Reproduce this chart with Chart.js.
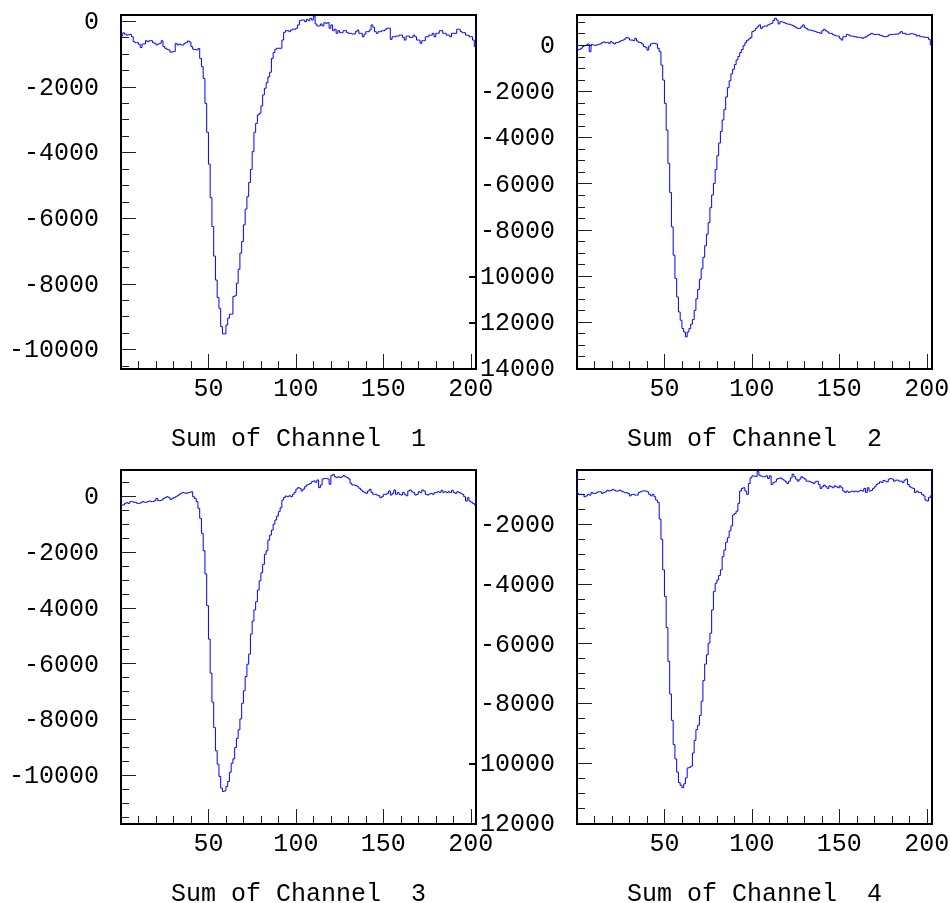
<!DOCTYPE html>
<html>
<head>
<meta charset="utf-8">
<script src="https://cdn.jsdelivr.net/npm/chart.js@4/dist/chart.umd.min.js"></script>
<style>
  html, body { margin: 0; padding: 0; background: #fff; overflow: hidden; width: 950px; height: 903px; }
  canvas.pad { position: absolute; left: 0; top: 0; }
</style>
</head>
<body>
<canvas id="c1" class="pad" width="950" height="960"></canvas>
<canvas id="c2" class="pad" width="950" height="960"></canvas>
<canvas id="c3" class="pad" width="950" height="960"></canvas>
<canvas id="c4" class="pad" width="950" height="960"></canvas>
<script>
// =============================================
// Sum of Channel 1..4  — histogrammes, 203 bins
// =============================================

// bins: bin i covers [binLow + (i-1)*binWidth, binLow + i*binWidth]
const binLow   = 0;
const binWidth = 1;

const xTickLabels  = [50, 100, 150, 200];
const yTickLabels1 = [0, -2000, -4000, -6000, -8000, -10000];
const yTickLabels2 = [0, -2000, -4000, -6000, -8000, -10000, -12000, -14000];
const yTickLabels3 = [0, -2000, -4000, -6000, -8000, -10000];
const yTickLabels4 = [-2000, -4000, -6000, -8000, -10000, -12000];

const titles = ["Sum of Channel  1", "Sum of Channel  2", "Sum of Channel  3", "Sum of Channel  4"];

const ch1Values = [
  -450, -360, -400, -430, -420, -410, -480, -630, -660, -660,
  -710, -810, -700, -700, -600, -630, -600, -600, -660, -680,
  -730, -700, -680, -600, -780, -830, -860, -880, -950, -940,
  -930, -680, -730, -700, -730, -730, -680, -660, -610, -640,
  -780, -860, -870, -880, -840, -1140, -1390, -1750, -2510, -3390,
  -4360, -5380, -6260, -7160, -7890, -8420, -8750, -9310, -9530, -9530,
  -9260, -9050, -8930, -8930, -8390, -8370, -7990, -7560, -7070, -6720,
  -6210, -5730, -5350, -4920, -4520, -3980, -3390, -3120, -2860, -2810,
  -2590, -2250, -2050, -1880, -1700, -1560, -1140, -960, -860, -830,
  -830, -830, -580, -345, -295, -295, -325, -275, -250, -250,
  -220, -120, 10, 30, 30, -20, 50, 10, 80, 30,
  150, -90, -150, -150, -90, -150, -50, -70, -50, -220,
  -120, -295, -250, -375, -295, -355, -355, -295, -295, -355,
  -375, -375, -395, -395, -325, -275, -375, -375, -480, -400,
  -325, -325, -275, -120, -190, -325, -375, -325, -325, -295,
  -295, -250, -220, -220, -560, -480, -480, -460, -460, -430,
  -430, -500, -580, -460, -460, -500, -500, -430, -480, -580,
  -580, -680, -600, -600, -480, -480, -430, -430, -375, -480,
  -375, -375, -295, -295, -375, -375, -430, -430, -480, -375,
  -375, -375, -250, -250, -325, -355, -355, -430, -430, -480,
  -480, -580, -780
];

const ch2Values = [
  -220, -190, -145, -70, -30, 0, 45, -290, 15, 0,
  -15, 0, 30, 45, 100, 130, 100, 115, 70, 145,
  100, 45, 100, 115, 145, 190, 215, 260, 320, 305,
  215, 215, 190, 290, 175, 115, 100, 45, -70, -100,
  -220, -45, 45, 70, 70, 45, -145, -290, -870, -1520,
  -2530, -3690, -5130, -6390, -7880, -9110, -10120, -10920, -11570, -11930,
  -12290, -12440, -12650, -12440, -12290, -12100, -11900, -11500, -11000, -10600,
  -10150, -9700, -9200, -8700, -8200, -7700, -7050, -6500, -6000, -5400,
  -4800, -4250, -3750, -3250, -2800, -2250, -1850, -1550, -1250, -1050,
  -850, -650, -500, -330, -200, -30, 100, 200, 260, 320,
  580, 620, 720, 790, 870, 720, 790, 820, 820, 870,
  910, 940, 1060, 1160, 1080, 910, 1010, 1000, 970, 940,
  910, 900, 870, 850, 800, 750, 720, 720, 790, 870,
  750, 710, 650, 650, 620, 610, 580, 550, 535, 505,
  620, 680, 610, 565, 505, 505, 450, 420, 390, 390,
  290, 215, 360, 360, 460, 435, 390, 390, 360, 360,
  330, 330, 320, 290, 330, 360, 420, 450, 505, 475,
  450, 460, 460, 420, 405, 360, 360, 375, 435, 450,
  460, 460, 475, 475, 520, 580, 505, 505, 460, 460,
  475, 490, 475, 460, 390, 420, 360, 360, 345, 330,
  330, 245, 0
];

const ch3Values = [
  -320, -320, -265, -240, -265, -200, -200, -225, -225, -265,
  -265, -240, -200, -225, -225, -200, -180, -200, -200, -165,
  -85, -165, -165, -145, -85, -60, -25, -50, -120, -85,
  -60, -25, 10, 60, 95, 130, 110, 95, 120, 130,
  155, -25, -85, -200, -440, -800, -1340, -1960, -2790, -3930,
  -5130, -6350, -7390, -8300, -9130, -9610, -10050, -10470, -10590, -10570,
  -10410, -10230, -9900, -9580, -9420, -9020, -8690, -8380, -7990, -7430,
  -6980, -6470, -6030, -5670, -4950, -4480, -4080, -3790, -3370, -3040,
  -2750, -2450, -2090, -1960, -1580, -1400, -1220, -1010, -860, -720,
  -560, -420, -145, -50, 0, -25, 10, -25, 60, 130,
  250, 300, 275, 180, 250, 335, 395, 420, 455, 515,
  540, 490, 575, 300, 395, 610, 630, 630, 610, 420,
  730, 775, 690, 660, 690, 660, 690, 730, 690, 660,
  610, 455, 395, 395, 370, 335, 275, 215, 155, 130,
  95, 180, 240, 130, 60, 60, 35, 10, -60, -25,
  60, 60, 95, 180, 35, 95, 215, 60, 130, 60,
  35, 130, 60, 10, 180, 215, 155, 120, 35, 60,
  155, 120, 215, 180, 60, 35, 70, 95, 60, 120,
  130, 155, 130, 205, 130, 155, 120, 155, 120, 205,
  130, 95, 155, 130, 95, 60, -25, -180, -60, -180,
  -225, -265, -320
];

const ch4Values = [
  -990, -1020, -1020, -1020, -1100, -1070, -1020, -1045, -955, -990,
  -990, -955, -935, -935, -990, -955, -935, -880, -910, -890,
  -855, -880, -910, -910, -880, -910, -935, -965, -965, -990,
  -1070, -1020, -1020, -1045, -1045, -955, -935, -910, -900, -910,
  -935, -1020, -1070, -1020, -1100, -1210, -1290, -1845, -2520, -3540,
  -4430, -5470, -6600, -7690, -8570, -9380, -9860, -10300, -10650, -10740,
  -10820, -10690, -10490, -10160, -10140, -10100, -9660, -9240, -8880, -8730,
  -8410, -7930, -7240, -6690, -6380, -5990, -5660, -4880, -4270, -3990,
  -3880, -3730, -3540, -3100, -2880, -2620, -2470, -2240, -2070, -1710,
  -1660, -1580, -1320, -910, -820, -800, -910, -1020, -655, -470,
  -400, -410, -420, -260, -380, -410, -430, -430, -400, -490,
  -400, -690, -625, -600, -510, -490, -470, -510, -545, -600,
  -655, -580, -470, -345, -430, -510, -580, -510, -430, -470,
  -510, -580, -580, -600, -625, -655, -600, -580, -690, -820,
  -765, -710, -765, -820, -735, -765, -800, -735, -765, -800,
  -735, -800, -910, -955, -910, -955, -935, -910, -935, -910,
  -935, -910, -880, -910, -820, -955, -800, -910, -890, -820,
  -765, -690, -655, -600, -625, -555, -580, -600, -510, -490,
  -510, -580, -545, -545, -580, -580, -625, -545, -510, -690,
  -765, -800, -820, -955, -910, -955, -955, -1020, -1070, -1210,
  -1240, -1130, -1070
];

// y ranges of each frame
const yRanges = [
  [-10600, 183],
  [-14043, 1300],
  [-11756, 932],
  [-12033, -206]
];

// ---- layout / style ----
const Y_AXIS_W  = 121;
const X_AXIS_H  = 86;
const Y_MINOR   = 500;
const X_MINOR   = 10;
const MAJOR_LEN = 15;
const MINOR_LEN = 8;
const FONT_FAMILY = "'Liberation Mono', 'DejaVu Sans Mono', monospace";

const frames = [
  { left: 121, top: 15,  right: 476, bottom: 369 },
  { left: 577, top: 15,  right: 932, bottom: 369 },
  { left: 121, top: 470, right: 476, bottom: 824 },
  { left: 577, top: 470, right: 932, bottom: 824 }
];

// ROOT-like histogram outline: start and end at 0, one step per bin
function histPoints(vals) {
  const pts = [{ x: binLow, y: 0 }];
  vals.forEach((v, i) => pts.push({ x: binLow + i * binWidth, y: v }));
  pts.push({ x: binLow + vals.length * binWidth, y: 0 });
  return pts;
}

// frame and inward ticks, drawn under the histogram
const rootFrame = {
  id: "rootFrame",
  beforeDatasetsDraw(chart, args, opts) {
    const { ctx, chartArea: a, scales: { x, y } } = chart;
    ctx.save();
    ctx.strokeStyle = "#222";
    ctx.lineWidth = 1;
    ctx.beginPath();
    for (let v = Math.ceil(y.min / Y_MINOR) * Y_MINOR; v <= y.max; v += Y_MINOR) {
      const py = Math.round(y.getPixelForValue(v)) + 0.5;
      const len = opts.yMajor.includes(v) ? MAJOR_LEN : MINOR_LEN;
      ctx.moveTo(a.left, py);
      ctx.lineTo(a.left + len, py);
    }
    for (let v = X_MINOR; v < x.max; v += X_MINOR) {
      const px = Math.round(x.getPixelForValue(v)) + 0.5;
      const len = opts.xMajor.includes(v) ? MAJOR_LEN : MINOR_LEN;
      ctx.moveTo(px, a.bottom);
      ctx.lineTo(px, a.bottom - len);
    }
    ctx.stroke();
    ctx.strokeStyle = "#000";
    ctx.lineWidth = 2;
    ctx.strokeRect(a.left, a.top, a.right - a.left, a.bottom - a.top);
    ctx.restore();
  }
};

function makePanel(idx, values, yLabels) {
  const canvas = document.getElementById("c" + (idx + 1));
  const f = frames[idx];
  const [yMin, yMax] = yRanges[idx];

  return new Chart(canvas, {
    type: "line",
    data: {
      datasets: [{
        data:        histPoints(values),
        stepped:     true,
        borderColor: "#0000ff",
        borderWidth: 1,
        pointRadius: 0,
        fill:        false
      }]
    },
    options: {
      responsive: false,
      animation:  false,
      events:     [],
      layout: {
        padding: {
          left:   f.left - Y_AXIS_W,
          top:    f.top,
          right:  canvas.width - f.right,
          bottom: canvas.height - f.bottom - X_AXIS_H
        }
      },
      plugins: {
        legend:  { display: false },
        tooltip: { enabled: false },
        rootFrame: { yMajor: yLabels, xMajor: xTickLabels }
      },
      scales: {
        x: {
          type: "linear",
          min:  binLow,
          max:  binLow + values.length * binWidth,
          grid:   { display: false, drawTicks: false },
          border: { display: false },
          afterBuildTicks: ax => { ax.ticks = xTickLabels.map(v => ({ value: v })); },
          afterFit: ax => { ax.height = X_AXIS_H; ax.paddingLeft = 0; ax.paddingRight = 0; },
          ticks: {
            autoSkip: false, maxRotation: 0, padding: 5, color: "#000",
            font: { family: FONT_FAMILY, size: 25 },
            callback: v => String(v)
          },
          title: {
            display: true, text: titles[idx], color: "#000",
            font: { family: FONT_FAMILY, size: 25 },
            padding: { top: 0, bottom: 1 }
          }
        },
        y: {
          type: "linear",
          min:  yMin,
          max:  yMax,
          grid:   { display: false, drawTicks: false },
          border: { display: false },
          afterBuildTicks: ax => { ax.ticks = yLabels.map(v => ({ value: v })); },
          afterFit: ax => { ax.width = Y_AXIS_W; ax.paddingTop = 0; ax.paddingBottom = 0; },
          ticks: {
            autoSkip: false, padding: 22, labelOffset: 1.5, color: "#000",
            font: { family: FONT_FAMILY, size: 25 },
            callback: v => String(v)
          }
        }
      }
    },
    plugins: [rootFrame]
  });
}

makePanel(0, ch1Values, yTickLabels1);
makePanel(1, ch2Values, yTickLabels2);
makePanel(2, ch3Values, yTickLabels3);
makePanel(3, ch4Values, yTickLabels4);
</script>
</body>
</html>
